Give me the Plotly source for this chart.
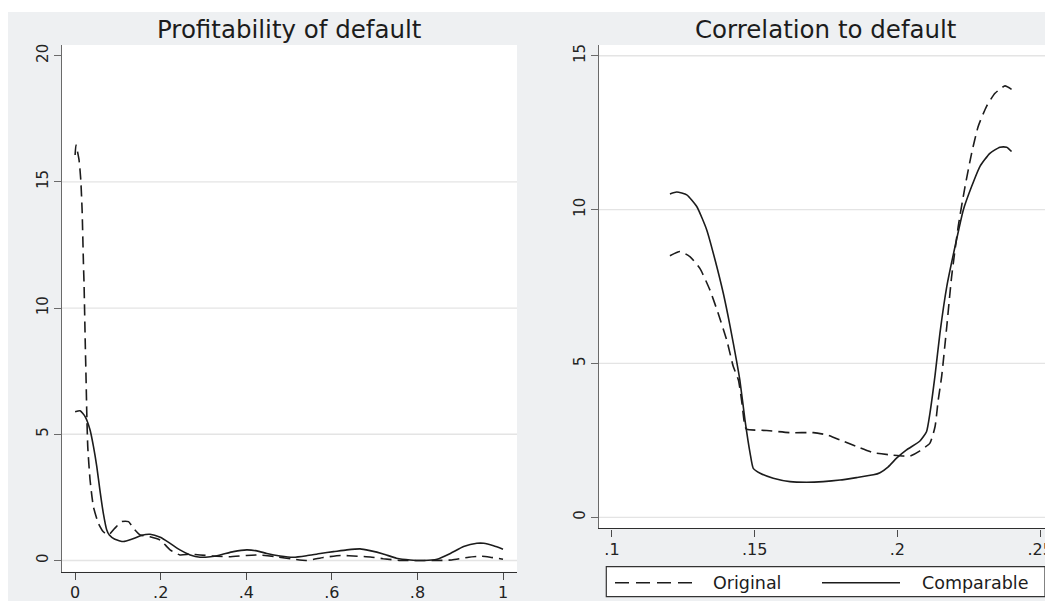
import plotly.graph_objects as go

# ---------------- data ----------------
# Left panel: Profitability of default
left_orig_x = [0, 0.002, 0.0093, 0.0133, 0.0164, 0.0195, 0.021, 0.0235, 0.0257, 0.0273, 0.0296, 0.035,
               0.0428, 0.0545, 0.066, 0.078, 0.093, 0.109, 0.125, 0.136, 0.152, 0.175, 0.199, 0.222,
               0.245, 0.269, 0.292, 0.32, 0.36, 0.40, 0.43, 0.47, 0.51, 0.54, 0.58, 0.62, 0.66, 0.69,
               0.72, 0.76, 0.80, 0.84, 0.88, 0.92, 0.95, 0.97, 1.0]
left_orig_y = [16.06, 16.46, 15.86, 15.07, 13.88, 11.77, 10.91, 8.8, 7.15, 5.83, 4.51, 3.19,
               2.13, 1.47, 1.14, 1.01, 1.28, 1.54, 1.54, 1.28, 1.01, 0.94, 0.81, 0.42,
               0.22, 0.25, 0.22, 0.18, 0.15, 0.2, 0.22, 0.15, 0.05, 0.0, 0.12, 0.2, 0.17, 0.14,
               0.07, 0.0, 0.0, 0.0, 0.02, 0.13, 0.17, 0.13, 0.05]

left_comp_x = [0, 0.0117, 0.0234, 0.035, 0.043, 0.0507, 0.058, 0.066, 0.074, 0.080, 0.093, 0.113,
               0.132, 0.156, 0.175, 0.199, 0.222, 0.245, 0.269, 0.292, 0.316, 0.339, 0.37, 0.401,
               0.425, 0.448, 0.479, 0.51, 0.541, 0.573, 0.604, 0.635, 0.666, 0.689, 0.72, 0.751,
               0.783, 0.815, 0.846, 0.877, 0.908, 0.939, 0.955, 0.978, 1.0]
left_comp_y = [5.89, 5.93, 5.7, 5.17, 4.51, 3.72, 2.79, 1.87, 1.21, 1.01, 0.84, 0.75,
               0.84, 1.0, 1.04, 0.92, 0.68, 0.42, 0.22, 0.13, 0.15, 0.22, 0.35, 0.42,
               0.38, 0.28, 0.18, 0.13, 0.19, 0.28, 0.35, 0.42, 0.46, 0.39, 0.26, 0.09,
               0.02, 0.0, 0.05, 0.28, 0.55, 0.68, 0.68, 0.58, 0.45]

# Right panel: Correlation to default
right_orig_x = [0.1203, 0.1238, 0.1273, 0.1308, 0.1343, 0.1372, 0.1402, 0.1425, 0.1443, 0.1454,
                0.1466, 0.1472, 0.1542, 0.1624, 0.1706, 0.1752, 0.18, 0.1857, 0.1916, 0.1974,
                0.2021, 0.2044, 0.2079, 0.2114, 0.2132, 0.2143, 0.2155, 0.2173, 0.219, 0.2213,
                0.2237, 0.226, 0.2283, 0.2312, 0.2342, 0.2377, 0.24]
right_orig_y = [8.50, 8.64, 8.47, 8.09, 7.39, 6.63, 5.76, 4.90, 4.46, 3.81,
                2.95, 2.86, 2.82, 2.75, 2.75, 2.68, 2.51, 2.30, 2.10, 2.03,
                1.99, 1.99, 2.16, 2.41, 2.95, 3.81, 4.57, 6.20, 7.82, 9.45,
                10.75, 11.83, 12.70, 13.35, 13.78, 14.02, 13.91]

right_comp_x = [0.1203, 0.1227, 0.1262, 0.1297, 0.1332, 0.1361, 0.139, 0.1414, 0.1436, 0.1448,
                0.1466, 0.1484, 0.1495, 0.1519, 0.1565, 0.1624, 0.1682, 0.1740, 0.1799, 0.1857,
                0.1916, 0.1939, 0.1968, 0.1997, 0.2032, 0.2079, 0.2102, 0.2114, 0.2132, 0.2149,
                0.2173, 0.2202, 0.2231, 0.226, 0.2289, 0.2324, 0.2359, 0.2383, 0.24]
right_comp_y = [10.51, 10.57, 10.48, 10.10, 9.34, 8.37, 7.28, 6.2, 5.11, 4.46,
                3.16, 2.08, 1.59, 1.43, 1.27, 1.16, 1.14, 1.16, 1.21, 1.29,
                1.38, 1.45, 1.64, 1.92, 2.19, 2.48, 2.78, 3.38, 4.62, 5.98,
                7.50, 8.80, 9.99, 10.75, 11.40, 11.83, 12.03, 12.03, 11.89]

# ticks / labels
left_xticks = [0, 0.2, 0.4, 0.6, 0.8, 1.0]
left_xticktext = ["0", ".2", ".4", ".6", ".8", "1"]
left_yticks = [0, 5, 10, 15, 20]
left_grid = [0, 5, 10, 15]
right_xticks = [0.1, 0.15, 0.2, 0.25]
right_xticktext = [".1", ".15", ".2", ".25"]
right_yticks = [0, 5, 10, 15]
right_grid = [0, 5, 10, 15]

titles = ["Profitability of default", "Correlation to default"]
series_names = ["Original", "Comparable"]

# ---------------- layout helpers ----------------
# page body has an 8px margin, so the figure is drawn 8px in from the window corner
OFF = 8
W, H = 1053 - OFF, 601 - OFF
FONT = "DejaVu Sans"
INK = "#1c1c1c"
BG = "#EEF0F2"
GRID = "#E4E4E4"
DASH = "11px,6px"


def px(p):
    return (p - OFF) / W


def py(p):
    return 1 - (p - OFF) / H


fig = go.Figure()

line_orig = dict(color=INK, width=1.6, dash=DASH, shape="spline", smoothing=0.5)
line_comp = dict(color=INK, width=1.6, shape="spline", smoothing=0.5)

fig.add_trace(go.Scatter(x=left_orig_x, y=left_orig_y, mode="lines", name=series_names[0],
                         line=line_orig, xaxis="x", yaxis="y", showlegend=False))
fig.add_trace(go.Scatter(x=left_comp_x, y=left_comp_y, mode="lines", name=series_names[1],
                         line=line_comp, xaxis="x", yaxis="y", showlegend=False))
fig.add_trace(go.Scatter(x=right_orig_x, y=right_orig_y, mode="lines", name=series_names[0],
                         line=line_orig, xaxis="x2", yaxis="y2", showlegend=False))
fig.add_trace(go.Scatter(x=right_comp_x, y=right_comp_y, mode="lines", name=series_names[1],
                         line=line_comp, xaxis="x2", yaxis="y2", showlegend=False))

xcommon = dict(showgrid=False, zeroline=False, showline=True, linecolor="#2e2e2e", linewidth=1.4,
               ticks="outside", ticklen=7, tickwidth=1.2, tickcolor="#4a4a4a",
               tickfont=dict(family=FONT, size=16, color="#222"), automargin=False,
               tickmode="array", ticklabelstandoff=-1)
ycommon = dict(showgrid=False, zeroline=False, showline=True, linecolor="#6a6a6a", linewidth=1.4,
               ticks="outside", ticklen=7, tickwidth=1.2, tickcolor="#6a6a6a",
               tickfont=dict(family=FONT, size=15, color="#222"), automargin=False,
               tickmode="array", tickangle=-90, ticklabelstandoff=0)

fig.update_layout(
    width=W, height=H,
    template="none",
    margin=dict(l=0, r=0, t=0, b=0, pad=0),
    paper_bgcolor=BG,
    plot_bgcolor="white",
    showlegend=False,
    xaxis=dict(domain=[px(62), px(517)], range=[-0.0306, 1.0327], anchor="y",
               tickvals=left_xticks, ticktext=left_xticktext, **xcommon),
    yaxis=dict(domain=[py(571.7), py(45)], range=[-0.444, 20.42], anchor="x",
               tickvals=left_yticks, **ycommon),
    xaxis2=dict(domain=[px(599), 1.0], range=[0.09545, 0.25452], anchor="y2",
                tickvals=right_xticks, ticktext=right_xticktext, **xcommon),
    yaxis2=dict(domain=[py(528.3), py(45)], range=[-0.358, 15.35], anchor="x2",
                tickvals=right_yticks, **ycommon),
)

shapes = []
# white strip along the top
shapes.append(dict(type="rect", xref="paper", yref="paper", x0=0, x1=1, y0=py(12), y1=1.01,
                   fillcolor="white", line=dict(width=0), layer="above"))
# gridlines
for v in left_grid:
    shapes.append(dict(type="line", xref="x domain", yref="y", x0=0, x1=1, y0=v, y1=v,
                       line=dict(color=GRID, width=1.3), layer="below"))
for v in right_grid:
    shapes.append(dict(type="line", xref="x2 domain", yref="y2", x0=0, x1=1, y0=v, y1=v,
                       line=dict(color=GRID, width=1.3), layer="below"))
# legend box and samples
shapes.append(dict(type="rect", xref="paper", yref="paper", x0=px(606.3), x1=px(1045),
                   y0=py(596.7), y1=py(566.7), fillcolor="white",
                   line=dict(color="#333", width=1.2), layer="above"))
shapes.append(dict(type="line", xref="paper", yref="paper", x0=px(615), x1=px(693),
                   y0=py(582.7), y1=py(582.7), line=dict(color=INK, width=1.6, dash="14px,7px"),
                   layer="above"))
shapes.append(dict(type="line", xref="paper", yref="paper", x0=px(822), x1=px(900),
                   y0=py(582.7), y1=py(582.7), line=dict(color=INK, width=1.6), layer="above"))
fig.update_layout(shapes=shapes)

annotations = [
    dict(text=titles[0], x=px(289.5), y=py(29), xref="paper", yref="paper",
         xanchor="center", yanchor="middle", showarrow=False,
         font=dict(family=FONT, size=24.5, color=INK)),
    dict(text=titles[1], x=px(825.7), y=py(29), xref="paper", yref="paper",
         xanchor="center", yanchor="middle", showarrow=False,
         font=dict(family=FONT, size=24.5, color=INK)),
    dict(text=series_names[0], x=px(746.5), y=py(582.7), xref="paper", yref="paper",
         xanchor="center", yanchor="middle", showarrow=False,
         font=dict(family=FONT, size=17.5, color=INK)),
    dict(text=series_names[1], x=px(974.7), y=py(582.7), xref="paper", yref="paper",
         xanchor="center", yanchor="middle", showarrow=False,
         font=dict(family=FONT, size=17.5, color=INK)),
]
fig.update_layout(annotations=annotations)

fig.write_html("out.html")
